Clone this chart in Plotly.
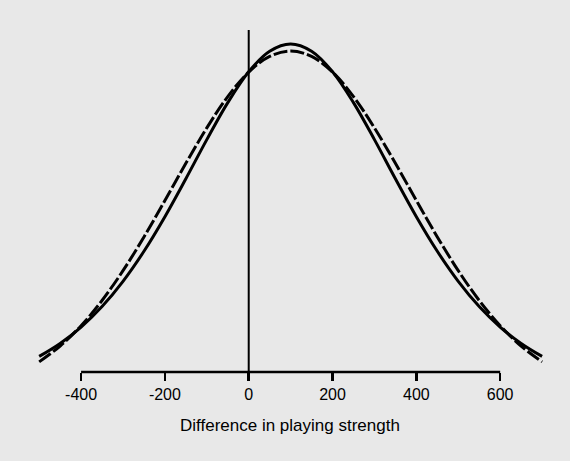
import plotly.graph_objects as go

# Difference in playing strength (x) and relative curve heights
x_vals = [-500, -450, -400, -350, -300, -250, -200, -150, -100, -50, 0, 50, 100,
          150, 200, 250, 300, 350, 400, 450, 500, 550, 600, 650, 700]
solid_vals = [0.1212, 0.1585, 0.2057, 0.2648, 0.3373, 0.4237, 0.5232, 0.6324, 0.7450, 0.8514,
              0.9403, 0.9995, 1.0203, 0.9995, 0.9403, 0.8514, 0.7450, 0.6324, 0.5232, 0.4237,
              0.3373, 0.2648, 0.2057, 0.1585, 0.1212]
dashed_vals = [0.1054, 0.1510, 0.2096, 0.2821, 0.3679, 0.4650, 0.5698, 0.6767, 0.7788, 0.8688,
               0.9394, 0.9845, 1.0000, 0.9845, 0.9394, 0.8688, 0.7788, 0.6767, 0.5698, 0.4650,
               0.3679, 0.2821, 0.2096, 0.1510, 0.1054]
tick_vals = [-400, -200, 0, 200, 400, 600]
tick_text = ["-400", "-200", "0", "200", "400", "600"]
x_title = "Difference in playing strength"

BG = "#e8e8e8"
FONT = "Liberation Sans, Arial, sans-serif"

fig = go.Figure()
fig.add_trace(go.Scatter(x=x_vals, y=dashed_vals, mode="lines", line_shape="spline",
                         line=dict(color="black", width=3, dash="14px,3px"), hoverinfo="skip"))
fig.add_trace(go.Scatter(x=x_vals, y=solid_vals, mode="lines", line_shape="spline",
                         line=dict(color="black", width=3), hoverinfo="skip"))

# partial bottom axis line (from -400 to 600)
fig.add_shape(type="line", xref="x", yref="paper", x0=-400, x1=600, y0=0, y1=0,
              line=dict(color="black", width=2.5))
# vertical line at zero
fig.add_shape(type="line", xref="x", yref="paper", x0=0, x1=0, y0=0, y1=0.9716,
              line=dict(color="black", width=2))

fig.add_annotation(text=x_title, xref="paper", yref="paper", x=0.5,
                   y=-0.1506, yanchor="middle", showarrow=False,
                   font=dict(family=FONT, size=17, color="black"))

fig.update_layout(
    width=570, height=461,
    margin=dict(l=22, r=12, t=20, b=89),
    paper_bgcolor=BG, plot_bgcolor=BG,
    showlegend=False,
    xaxis=dict(range=[-541, 738], showgrid=False, zeroline=False, showline=False,
               tickmode="array", tickvals=tick_vals, ticktext=tick_text,
               ticks="outside", ticklen=8, tickwidth=2.5, tickcolor="black",
               tickfont=dict(family=FONT, size=16, color="black")),
    yaxis=dict(range=[0.0763, 1.0892], visible=False, showgrid=False, zeroline=False),
)

fig.write_html("out.html", config={"displayModeBar": False, "staticPlot": True})

# remove the default page margin so the figure sits at the window's top-left corner
with open("out.html", "r", encoding="utf-8") as f:
    html = f.read()
html = html.replace("<head>", "<head><style>html,body{margin:0;padding:0;background:%s;}</style>" % BG, 1)
with open("out.html", "w", encoding="utf-8") as f:
    f.write(html)
